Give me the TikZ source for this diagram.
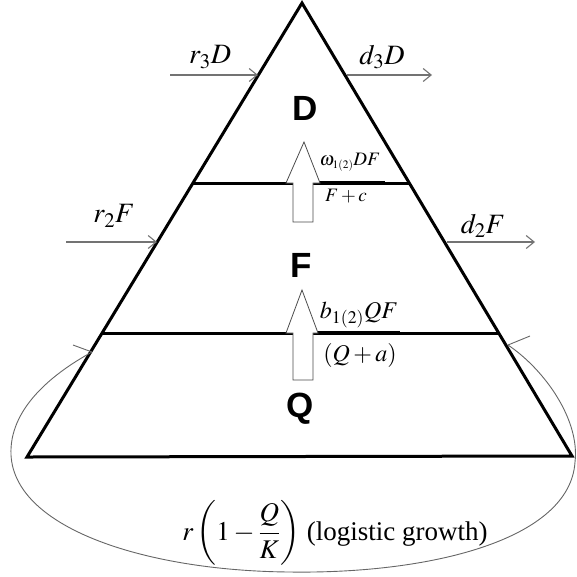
\documentclass[tikz,border=0pt]{standalone}
\usepackage{mathptmx}
\usepackage[no-math]{fontspec}
\setmainfont{Liberation Serif}
\newfontfamily\popfont{Liberation Sans}
\usetikzlibrary{arrows.meta}
\begin{document}
\begin{tikzpicture}[x=1pt,y=-1pt,
  side/.style={line width=3pt, line join=miter},
  fracbar/.style={line width=4pt},
  flow/.style={draw=black!55, line width=1.1pt, -{Straight Barb[length=8pt,width=13pt,line width=1.1pt]}},
  loopline/.style={draw=black!60, line width=0.9pt},
  blockarrow/.style={fill=white, draw=black!70, line width=0.8pt, line join=miter},
  pop/.style={font=\popfont\bfseries\fontsize{35}{38}\selectfont, inner sep=0pt},
  rate/.style={font=\fontsize{28}{32}\selectfont, inner sep=0pt},
  logi/.style={font=\fontsize{27}{30}\selectfont, inner sep=0pt},
  midrate/.style={font=\fontsize{24}{28}\selectfont, inner sep=0pt},
  smallrate/.style={font=\fontsize{19}{22}\selectfont, inner sep=0pt}]
\useasboundingbox (0,0) rectangle (577,576);
% pyramid
\coordinate (A) at (302,3);
\coordinate (BL) at (27,457);
\coordinate (BR) at (572,456);
\coordinate (L1) at (192.6,183);
\coordinate (R1) at (409.3,183);
\coordinate (L2) at (102.1,333);
\coordinate (R2) at (498.7,333);
\draw[side] (A) -- (BL) -- (BR) -- cycle;
\draw[side] (L1) -- (R1);
\draw[side] (L2) -- (R2);
% fraction bars
\coordinate (fb1a) at (316,183); \coordinate (fb1b) at (385,183);
\coordinate (fb2a) at (318,333); \coordinate (fb2b) at (400,333);
\draw[fracbar] (fb1a) -- (fb1b);
\draw[fracbar] (fb2a) -- (fb2b);
% block arrows
\draw[blockarrow] (304,142) -- (320,183) -- (313,183) -- (313,222) -- (293,222) -- (293,183) -- (286,183) -- cycle;
\draw[blockarrow] (302,290) -- (318,333) -- (313,333) -- (313,380) -- (293,380) -- (293,333) -- (286,333) -- cycle;
% flows in and out
\coordinate (r3s) at (170,75); \coordinate (r3e) at (258,75);
\coordinate (d3s) at (347,75); \coordinate (d3e) at (432,75);
\coordinate (r2s) at (66,242); \coordinate (r2e) at (157,242);
\coordinate (d2s) at (447,242); \coordinate (d2e) at (535,242);
\draw[flow] (r3s) -- (r3e);
\draw[flow] (d3s) -- (d3e);
\draw[flow] (r2s) -- (r2e);
\draw[flow] (d2s) -- (d2e);
% logistic loop
\coordinate (lpR) at (508,345);
\coordinate (lpL) at (92,352);
\draw[loopline] (lpR) .. controls (545,370) and (580,420) .. (575,462)
  .. controls (570,540) and (430,574) .. (290,572)
  .. controls (150,571) and (15,530) .. (11,455)
  .. controls (9,410) and (50,375) .. (lpL);
\coordinate (bL) at (73,345); \coordinate (bR) at (530,336);
\draw[loopline] (lpL) -- (bL);
\draw[loopline] (lpR) -- (bR);
% labels
\node[pop] (D) at (305,108) {D};
\node[pop] (F) at (301,265) {F};
\node[pop] (Q) at (300,409) {Q};
\node[rate] (r3) at (210,57) {$r_3D$};
\node[rate] (d3) at (382,57) {$d_3D$};
\node[rate] (r2) at (114,216) {$r_2F$};
\node[rate] (d2) at (483,226) {$d_2F$};
\node[smallrate] (om) at (350,162) {$\omega_{\scriptscriptstyle 1(2)}DF$};
\node[smallrate] (fc) at (346,196) {$F+c$};
\node[midrate] (bq) at (359,315) {$b_{1(2)}QF$};
\node[midrate] (qa) at (360,355) {$(Q+a)$};
\node[logi, anchor=base] (lg) at (335,540) {$r\left(1-{\displaystyle\frac{Q}{K}}\right)$ (logistic growth)};
\end{tikzpicture}
\end{document}
